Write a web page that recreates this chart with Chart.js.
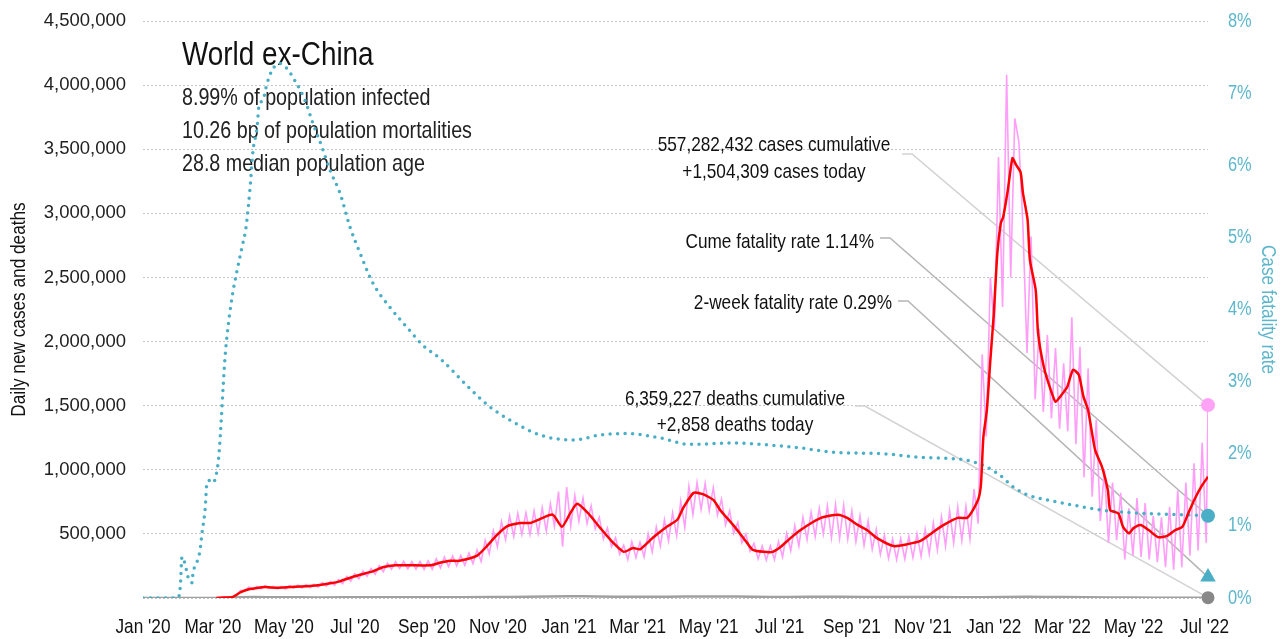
<!DOCTYPE html>
<html>
<head>
<meta charset="utf-8">
<script src="https://cdn.jsdelivr.net/npm/chart.js@4.4.0/dist/chart.umd.min.js"></script>
<style>
  html, body { margin: 0; padding: 0; background: #fff; }
  #wrap { width: 1287px; height: 639px; position: relative; }
</style>
</head>
<body>
<div id="wrap"><canvas id="chart"></canvas></div>
<script>
// x positions are days since 1 Jan 2020
var monthTickDays = [0, 60, 121, 182, 244, 305, 366, 425, 486, 547, 609, 670, 731, 790, 851, 912];
var monthTickLabels = ["Jan '20", "Mar '20", "May '20", "Jul '20", "Sep '20", "Nov '20", "Jan '21", "Mar '21",
                       "May '21", "Jul '21", "Sep '21", "Nov '21", "Jan '22", "Mar '22", "May '22", "Jul '22"];
var lastDay = 915;

// daily new cases (thousands), two readings per week (weekly high, weekly low), starting day 63
var dailyStartDay = 63;
var dailyCases = [
  0, 2, 8, 3, 10, 25, 60, 55, 85, 65, 90, 72, 95, 75, 90, 72, 90, 70, 95, 75,
  100, 78, 105, 82, 108, 85, 120, 92, 130, 100, 145, 112, 168, 132, 190, 150, 210, 170, 230, 185,
  252, 205, 272, 225, 282, 230, 285, 228, 283, 225, 285, 222, 290, 225, 305, 235, 318, 245, 328, 250,
  330, 255, 350, 268, 375, 285, 450, 345, 525, 400, 595, 455, 640, 480, 660, 495, 665, 495, 680, 505,
  705, 520, 735, 560, 830, 400, 865, 560, 800, 600, 780, 580, 720, 540, 630, 460, 545, 400, 470, 340,
  410, 300, 440, 315, 435, 320, 500, 360, 555, 405, 610, 445, 665, 485, 755, 550, 870, 650, 900, 690,
  895, 680, 860, 645, 770, 570, 680, 505, 590, 430, 500, 365, 425, 305, 405, 295, 405, 300, 440, 320,
  505, 370, 565, 405, 630, 455, 670, 480, 700, 500, 720, 470, 730, 465, 725, 460, 680, 440, 640, 410,
  600, 380, 535, 340, 490, 310, 460, 300, 465, 305, 480, 315, 500, 325, 535, 345, 585, 375, 635, 405,
  680, 430, 710, 450, 715, 460, 850, 580, 1900, 1260, 2500, 2100, 3440, 2270, 4080, 2500, 3740, 3560,
  2900, 1910, 2820, 1550, 2100, 1450, 2050, 1400, 1950, 1320, 1830, 1300, 2190, 1200, 1960, 940,
  1790, 790, 1390, 600, 1000, 430, 900, 450, 820, 300, 700, 330, 780, 320, 740, 300, 640, 280,
  630, 240, 710, 220, 840, 240, 900, 330, 1050, 370, 1210, 430
];

// 7-day average of new cases (thousands)
var avgDays = [63, 70, 77, 84, 91, 98, 105, 115, 126, 146, 161, 169, 182, 198, 206, 217, 229, 247, 255, 264,
  272, 287, 296, 304, 313, 324, 333, 341, 352, 360, 367, 373, 382, 393, 404, 413, 421, 427, 438, 450,
  459, 464, 473, 481, 490, 496, 507, 519, 524, 533, 541, 548, 556, 565, 576, 584, 597, 605, 614, 622,
  631, 645, 657, 668, 679, 688, 700, 708, 713, 718, 720, 722, 725, 728, 731, 734, 737, 739, 743, 747,
  750, 754, 756, 760, 762, 767, 769, 774, 780, 784, 788, 794, 799, 804, 808, 812, 818, 824, 829, 831,
  838, 842, 847, 851, 857, 864, 872, 880, 887, 893, 898, 904, 910, 915];
var avgCases = [0, 3, 8, 45, 68, 78, 85, 80, 85, 95, 115, 130, 170, 210, 240, 255, 255, 255, 275, 290,
  290, 330, 410, 490, 560, 585, 585, 615, 650, 555, 660, 735, 665, 545, 430, 360, 390, 380, 470, 555,
  610, 700, 820, 810, 765, 685, 570, 430, 375, 360, 360, 400, 465, 530, 595, 630, 650, 625, 570, 530,
  465, 405, 420, 445, 515, 570, 625, 625, 685, 780, 895, 1255, 1465, 1855, 2220, 2690, 2925, 2970, 3180, 3430,
  3380, 3320, 3160, 2950, 2635, 2400, 2065, 1800, 1620, 1530, 1570, 1645, 1780, 1740, 1570, 1465, 1155, 1020, 840, 685,
  660, 555, 505, 545, 570, 530, 475, 485, 530, 555, 660, 780, 880, 945];

// case fatality rate (%)
var cfrDays = [0, 30, 32, 33.5, 36, 38.7, 42, 43, 46.4, 49, 50.7, 53.3, 55, 57.6, 60.2, 63.6, 65.3, 70.5, 73, 76.5,
  80.8, 85, 88.5, 92, 94.5, 98, 99.7, 103, 106.5, 111.7, 117.7, 123.8, 130.6, 139.2, 146, 153.8, 160.7, 169.3, 177.9, 186.5,
  197.7, 212.2, 226.9, 240.6, 255.2, 278, 298, 315, 341, 369.5, 393, 416, 444, 470, 507, 530, 565, 593, 636, 668,
  708, 725.5, 736.5, 747.7, 759.8, 777, 805, 823, 851, 880, 902.5, 915];
var cfrValues = [0, 0, 0.15, 0.57, 0.48, 0.29, 0.21, 0.35, 0.5, 0.66, 0.9, 1.22, 1.6, 1.63, 1.6, 1.77, 2.0, 3.34, 3.75, 4.17,
  4.54, 4.86, 5.14, 5.69, 6.2, 6.52, 6.83, 6.9, 7.13, 7.34, 7.41, 7.34, 7.17, 6.9, 6.58, 6.25, 5.93, 5.61, 5.14, 4.78,
  4.36, 4.03, 3.75, 3.5, 3.32, 2.95, 2.65, 2.47, 2.26, 2.19, 2.26, 2.28, 2.22, 2.13, 2.15, 2.13, 2.08, 2.02, 2.0, 1.95,
  1.91, 1.81, 1.70, 1.54, 1.43, 1.36, 1.27, 1.22, 1.18, 1.16, 1.15, 1.14];

// daily deaths (thousands)
var deathDays = [0, 60, 75, 95, 120, 150, 200, 250, 300, 330, 366, 390, 420, 450, 480, 510, 540, 570, 600, 640,
  680, 720, 760, 790, 830, 870, 915];
var deathValues = [0, 0.1, 3, 7, 6, 4.5, 5.5, 5.5, 7, 10, 13, 12, 9, 9.5, 12.5, 11, 8, 9, 9, 7,
  7, 6.5, 9, 7, 4, 2.5, 2.858];

var todayCases = 1504.309;
var todayDeaths = 2.858;
var cumeCfr = 1.14;
var twoWeekCfr = 0.29;

var sans = "'Liberation Sans', Arial, sans-serif";
var teal = '#4aaec6';
var tealText = '#5db6cc';

function pairs(xs, ys) {
  var out = [];
  for (var i = 0; i < xs.length; i++) out.push({x: xs[i], y: ys[i]});
  return out;
}

var dailyPoints = dailyCases.map(function(v, i) { return {x: dailyStartDay + i * 3.5, y: v}; });
dailyPoints.push({x: lastDay, y: todayCases});

// condensed text: regular face squeezed horizontally
function narrowText(ctx, text, x, y, size, align, color, rot, baseline) {
  ctx.save();
  ctx.translate(x, y);
  if (rot) ctx.rotate(rot);
  ctx.scale(0.82, 1);
  ctx.font = size + 'px ' + sans;
  ctx.textAlign = align;
  ctx.textBaseline = baseline || 'alphabetic';
  ctx.fillStyle = color;
  ctx.fillText(text, 0, 0);
  ctx.restore();
}

// titles, notes, leader lines and the narrow axis labels
var notes = {
  id: 'notes',
  beforeDatasetsDraw: function(chart) {
    var ctx = chart.ctx;
    var xs = chart.scales.x, ys = chart.scales.y, yr = chart.scales.y1;
    var xEnd = xs.getPixelForValue(lastDay);

    function leader(x0, y0, x1, y1, color) {
      ctx.beginPath();
      ctx.moveTo(x0, y0);
      ctx.lineTo(x0 + 10, y0);
      ctx.lineTo(x1, y1);
      ctx.strokeStyle = color;
      ctx.lineWidth = 1.5;
      ctx.stroke();
    }
    ctx.save();
    leader(902, 154, xEnd, ys.getPixelForValue(todayCases), '#d2d2d2');
    leader(880, 238, xEnd, yr.getPixelForValue(cumeCfr), '#b5b5b5');
    leader(898, 301, xEnd, yr.getPixelForValue(twoWeekCfr), '#b5b5b5');
    leader(855, 406, xEnd, ys.getPixelForValue(todayDeaths), '#d2d2d2');
    ctx.restore();

    narrowText(ctx, 'World ex-China', 182, 65, 34, 'left', '#111');
    narrowText(ctx, '8.99% of population infected', 182, 105, 24, 'left', '#222');
    narrowText(ctx, '10.26 bp of population mortalities', 182, 138, 24, 'left', '#222');
    narrowText(ctx, '28.8 median population age', 182, 171, 24, 'left', '#222');

    narrowText(ctx, '557,282,432 cases cumulative', 774, 151, 21, 'center', '#111');
    narrowText(ctx, '+1,504,309 cases today', 774, 178, 21, 'center', '#111');
    narrowText(ctx, '6,359,227 deaths cumulative', 735, 405, 21, 'center', '#111');
    narrowText(ctx, '+2,858 deaths today', 735, 431, 21, 'center', '#111');
    narrowText(ctx, 'Cume fatality rate 1.14%', 874, 248, 21, 'right', '#111');
    narrowText(ctx, '2-week fatality rate 0.29%', 892, 309, 21, 'right', '#111');
  },
  afterDraw: function(chart) {
    var ctx = chart.ctx;
    var xs = chart.scales.x, yr = chart.scales.y1;
    var mid = (chart.chartArea.top + chart.chartArea.bottom) / 2;
    xs.ticks.forEach(function(t, i) {
      narrowText(ctx, monthTickLabels[i], xs.getPixelForValue(t.value), 633, 21, 'center', '#111');
    });
    yr.ticks.forEach(function(t) {
      narrowText(ctx, t.value + '%', xs.right + 20, yr.getPixelForValue(t.value), 20, 'left', tealText, 0, 'middle');
    });
    narrowText(ctx, 'Daily new cases and deaths', 19, mid, 21, 'center', '#111', -Math.PI / 2, 'middle');
    narrowText(ctx, 'Case fatality rate', 1268, mid, 21, 'center', tealText, Math.PI / 2, 'middle');
  }
};

new Chart(document.getElementById('chart'), {
  type: 'line',
  data: {
    datasets: [
      { type: 'scatter', data: [{x: lastDay, y: todayCases}], yAxisID: 'y', clip: false,
        pointRadius: 7, pointBackgroundColor: '#ffa3f6', pointBorderWidth: 0 },
      { type: 'scatter', data: [{x: lastDay, y: cumeCfr}], yAxisID: 'y1', clip: false,
        pointRadius: 7, pointBackgroundColor: teal, pointBorderWidth: 0 },
      { type: 'scatter', data: [{x: lastDay, y: twoWeekCfr}], yAxisID: 'y1', clip: false,
        pointStyle: 'triangle', pointRadius: 9, pointBackgroundColor: teal, pointBorderWidth: 0 },
      { type: 'scatter', data: [{x: lastDay, y: todayDeaths}], yAxisID: 'y', clip: false,
        pointRadius: 6.5, pointBackgroundColor: '#888', pointBorderWidth: 0 },
      { data: pairs(avgDays, avgCases), yAxisID: 'y', borderColor: '#ff0000', borderWidth: 2.5,
        pointRadius: 0, tension: 0.2, fill: false },
      { data: pairs(cfrDays, cfrValues), yAxisID: 'y1', borderColor: teal, borderWidth: 3.5,
        borderDash: [0, 7.5], borderCapStyle: 'round', pointRadius: 0,
        cubicInterpolationMode: 'monotone', fill: false },
      { data: dailyPoints, yAxisID: 'y', borderColor: '#ff9ef8', borderWidth: 1.6,
        pointRadius: 0, tension: 0, fill: false },
      { data: pairs(deathDays, deathValues), yAxisID: 'y', borderColor: '#a0a0a0', borderWidth: 2.5,
        pointRadius: 0, tension: 0.2, fill: false }
    ]
  },
  options: {
    responsive: true,
    maintainAspectRatio: false,
    animation: false,
    layout: { padding: { top: 21, right: 0, bottom: 0, left: 0 } },
    plugins: { legend: { display: false }, tooltip: { enabled: false } },
    scales: {
      x: {
        type: 'linear', min: 0, max: lastDay,
        grid: { display: false }, border: { display: false },
        afterBuildTicks: function(scale) {
          scale.ticks = monthTickDays.map(function(d) { return {value: d}; });
        },
        afterFit: function(scale) {
          scale.height = 41;
          scale.paddingLeft = 0; scale.paddingRight = 0;
        },
        ticks: { display: false }
      },
      y: {
        position: 'left', min: 0, max: 4500,
        grid: { color: '#c2c2c2', lineWidth: 1, drawTicks: false },
        border: { display: false, dash: [2, 2] },
        afterFit: function(scale) {
          scale.width = 143;
          scale.paddingTop = 0; scale.paddingBottom = 0;
        },
        ticks: {
          stepSize: 500, padding: 17, color: '#222',
          font: { family: sans, size: 18.5 },
          callback: function(v) { return v === 0 ? '' : (v * 1000).toLocaleString('en-US'); }
        }
      },
      y1: {
        position: 'right', min: 0, max: 8,
        grid: { display: false, drawTicks: false }, border: { display: false },
        afterFit: function(scale) {
          scale.width = 79;
          scale.paddingTop = 0; scale.paddingBottom = 0;
        },
        ticks: { display: false, stepSize: 1 }
      }
    }
  },
  plugins: [notes]
});
</script>
</body>
</html>
